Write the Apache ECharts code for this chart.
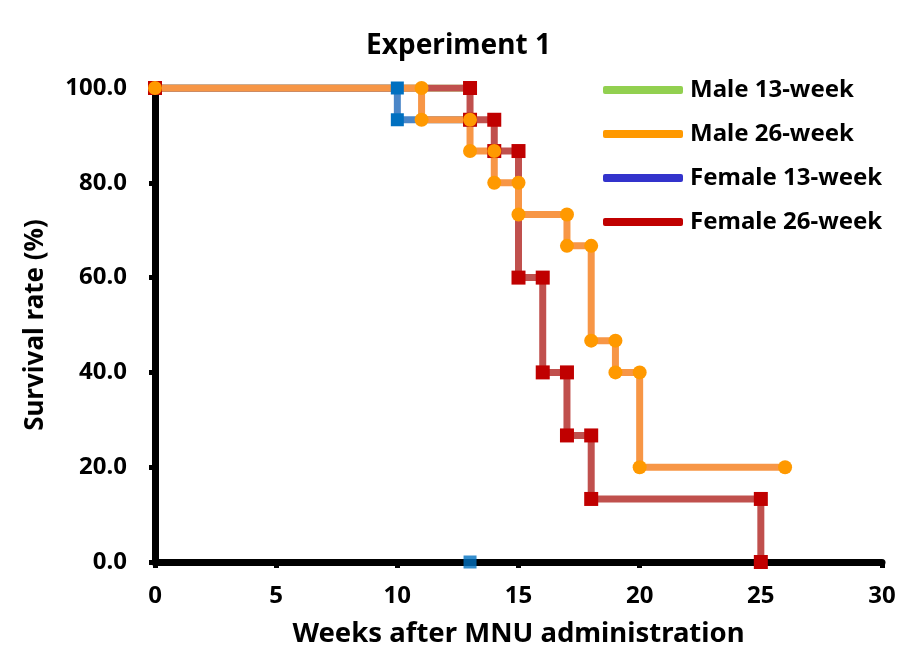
<!DOCTYPE html>
<html>
<head>
<meta charset="utf-8">
<script src="https://cdn.jsdelivr.net/npm/echarts@6/dist/echarts.min.js"></script>
<style>html,body{margin:0;padding:0;background:#fff;}#c{width:917px;height:665px;}</style>
</head>
<body>
<div id="c"></div>
<script>
const seriesNames = ['Male 13-week', 'Male 26-week', 'Female 13-week', 'Female 26-week'];
const legendColors = ['#92D050', '#FF9900', '#3333CC', '#C00000'];
const xTicks = [0, 5, 10, 15, 20, 25, 30];
const yTicks = [0, 20, 40, 60, 80, 100];

const male13 = [[0, 100], [13, 100]];
const male26 = [[0, 100], [11, 100], [11, 93.3], [13, 93.3], [13, 86.7], [14, 86.7], [14, 80], [15, 80], [15, 73.3], [17, 73.3], [17, 66.7], [18, 66.7], [18, 46.7], [19, 46.7], [19, 40], [20, 40], [20, 20], [26, 20]];
const female13 = [[0, 100], [10, 100], [10, 93.3], [13, 93.3]];
const female13End = [[13, 0]];
const female26 = [[0, 100], [13, 100], [13, 93.3], [14, 93.3], [14, 86.7], [15, 86.7], [15, 60], [16, 60], [16, 40], [17, 40], [17, 26.7], [18, 26.7], [18, 13.3], [25, 13.3], [25, 0]];

const font = '"Noto Sans", "Liberation Sans", Arial, sans-serif';
const chart = echarts.init(document.getElementById('c'));

function lineSeries(name, data, lineColor, markColor, symbol, size) {
  return {
    name: name, type: 'line', data: data,
    symbol: symbol, symbolSize: size,
    showAllSymbol: true,
    lineStyle: { color: lineColor, width: 7 },
    itemStyle: { color: markColor },
    animation: false
  };
}

chart.setOption({
  animation: false,
  title: {
    text: 'Experiment 1', left: 'center', top: 27,
    textStyle: { fontFamily: font, fontWeight: 'bold', fontSize: 28, color: '#000' }
  },
  legend: {
    orient: 'vertical', left: 598, top: 73,
    itemWidth: 80, itemHeight: 8, itemGap: 20,
    textStyle: { fontFamily: font, fontWeight: 'bold', fontSize: 24, color: '#000', lineHeight: 24, padding: [0, 0, 0, 2] },
    data: seriesNames.map((n, i) => ({ name: n, icon: 'roundRect', itemStyle: { color: legendColors[i] } }))
  },
  grid: { left: 155, right: 35, top: 88, bottom: 103, containLabel: false },
  xAxis: {
    type: 'value', min: xTicks[0], max: xTicks[xTicks.length - 1], interval: 5,
    name: 'Weeks after MNU administration', nameLocation: 'middle', nameGap: 58,
    nameTextStyle: { fontFamily: font, fontWeight: 'bold', fontSize: 27.5, color: '#000' },
    axisLine: { lineStyle: { color: '#000', width: 7 } },
    axisTick: { show: true, length: 6, lineStyle: { color: '#000', width: 5 } },
    axisLabel: { fontFamily: font, fontWeight: 'bold', fontSize: 24, color: '#000', margin: 22 },
    splitLine: { show: false }
  },
  yAxis: {
    type: 'value', min: yTicks[0], max: yTicks[yTicks.length - 1], interval: 20,
    name: 'Survival rate (%)', nameLocation: 'middle', nameGap: 106, nameRotate: 90,
    nameTextStyle: { fontFamily: font, fontWeight: 'bold', fontSize: 26, color: '#000' },
    axisLine: { show: true, lineStyle: { color: '#000', width: 7 } },
    axisTick: { show: true, length: 6, lineStyle: { color: '#000', width: 5 } },
    axisLabel: { fontFamily: font, fontWeight: 'bold', fontSize: 24, color: '#000', margin: 28, formatter: v => v.toFixed(1) },
    splitLine: { show: false }
  },
  series: [
    lineSeries(seriesNames[0], male13, '#92D050', '#92D050', 'circle', 13),
    lineSeries(seriesNames[2], female13, '#4A86C8', '#0070C0', 'rect', 13),
    { name: seriesNames[2], type: 'scatter', data: female13End, symbol: 'rect', symbolSize: 13, itemStyle: { color: '#0070C0' }, z: 3 },
    lineSeries(seriesNames[3], female26, '#C0504D', '#C00000', 'rect', 14),
    lineSeries(seriesNames[1], male26, '#F79646', '#FF9900', 'circle', 14)
  ]
});
</script>
</body>
</html>
